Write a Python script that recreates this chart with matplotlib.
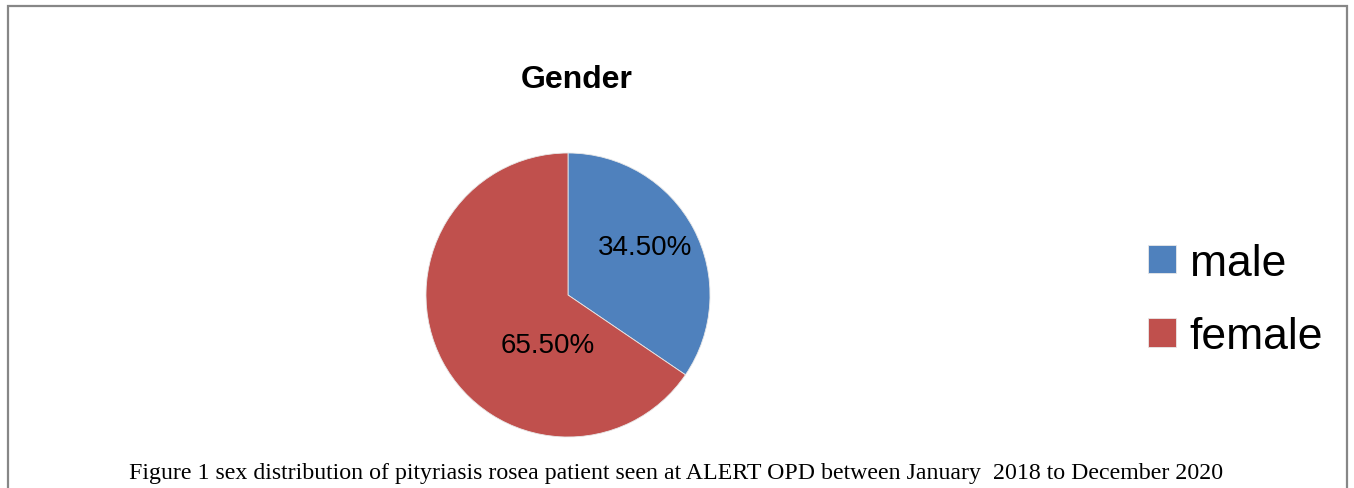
"""Gender pie chart (Excel style) with caption."""
import matplotlib
matplotlib.use("Agg")
import matplotlib.pyplot as plt
from matplotlib.patches import Rectangle

# ---- data -------------------------------------------------------------
categories = ["male", "female"]
shares = [34.5, 65.5]
pct_labels = ["34.50%", "65.50%"]
colors = ["#4F81BD", "#C0504D"]

NARROW = ["Liberation Sans Narrow", "Liberation Sans", "DejaVu Sans"]
SERIF = ["Liberation Serif", "DejaVu Serif"]

W, H = 1354, 489
fig = plt.figure(figsize=(W / 100, H / 100), dpi=100)

# outer frame (open at the bottom, as in the cropped source)
fig.patches.append(Rectangle((8 / W, -0.2), (1347 - 8) / W, 1.2 - 7 / H,
                             transform=fig.transFigure, fill=False,
                             ec="#878787", lw=1.6, zorder=0))

# pie axes: centre (568, 296) px, radius 142 px
cx, cy, r = 568, 296, 142
ax = fig.add_axes([(cx - r) / W, (H - cy - r) / H, 2 * r / W, 2 * r / H])
wedges, _ = ax.pie(shares, colors=colors, startangle=90, counterclock=False,
                   wedgeprops=dict(edgecolor="#e8e8e8", linewidth=0.6))
ax.set_xlim(-1, 1); ax.set_ylim(-1, 1); ax.set_aspect("equal"); ax.axis("off")

# data labels (Excel best-fit positions)
label_pos = [(0.54, 0.34), (-0.14, -0.35)]
for (lx, ly), s in zip(label_pos, pct_labels):
    ax.text(lx, ly, s, ha="center", va="center", fontsize=20, family=NARROW)

# title
fig.text(577 / W, 1 - 80 / H, "Gender", ha="center", va="center",
         fontsize=23, fontweight="bold", family=NARROW)

# legend
fig.legend(wedges, categories, loc="center left",
           bbox_to_anchor=(1148 / W, 1 - 301 / H), frameon=False,
           prop=dict(family=NARROW, size=32), handlelength=0.62, handleheight=0.62,
           handletextpad=0.32, labelspacing=0.74, borderpad=0, borderaxespad=0)

# caption
fig.text(676 / W, 1 - 474 / H,
         "Figure 1 sex distribution of pityriasis rosea patient seen at ALERT OPD "
         "between January  2018 to December 2020",
         ha="center", va="center", fontsize=17.2, family=SERIF)

fig.savefig("out.png", dpi=100)
